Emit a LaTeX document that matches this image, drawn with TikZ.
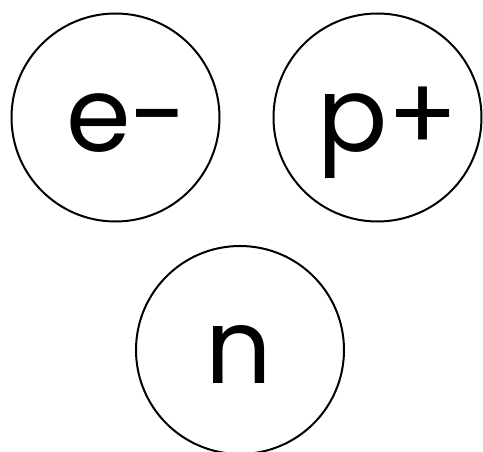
\documentclass[tikz,border=0pt]{standalone}
\usepackage{fontspec}
\setmainfont{Poppins}
\begin{document}
\begin{tikzpicture}[x=1pt,y=-1pt,
  particle/.style={draw=black, line width=2pt, circle, minimum size=208pt, inner sep=0pt},
  sym/.style={anchor=base, inner sep=0pt, font=\fontsize{104}{104}\selectfont}]
\useasboundingbox (0,0) rectangle (483,452);
\node[particle] (e) at (115.5,117.5) {};
\node[particle] (p) at (377.5,117.5) {};
\node[particle] (n) at (240,350) {};
\node[sym] (et) at (127,152) {e-};
\node[sym] (pt) at (388,152) {p+};
\node[sym] (nt) at (239,383) {n};
\end{tikzpicture}
\end{document}
